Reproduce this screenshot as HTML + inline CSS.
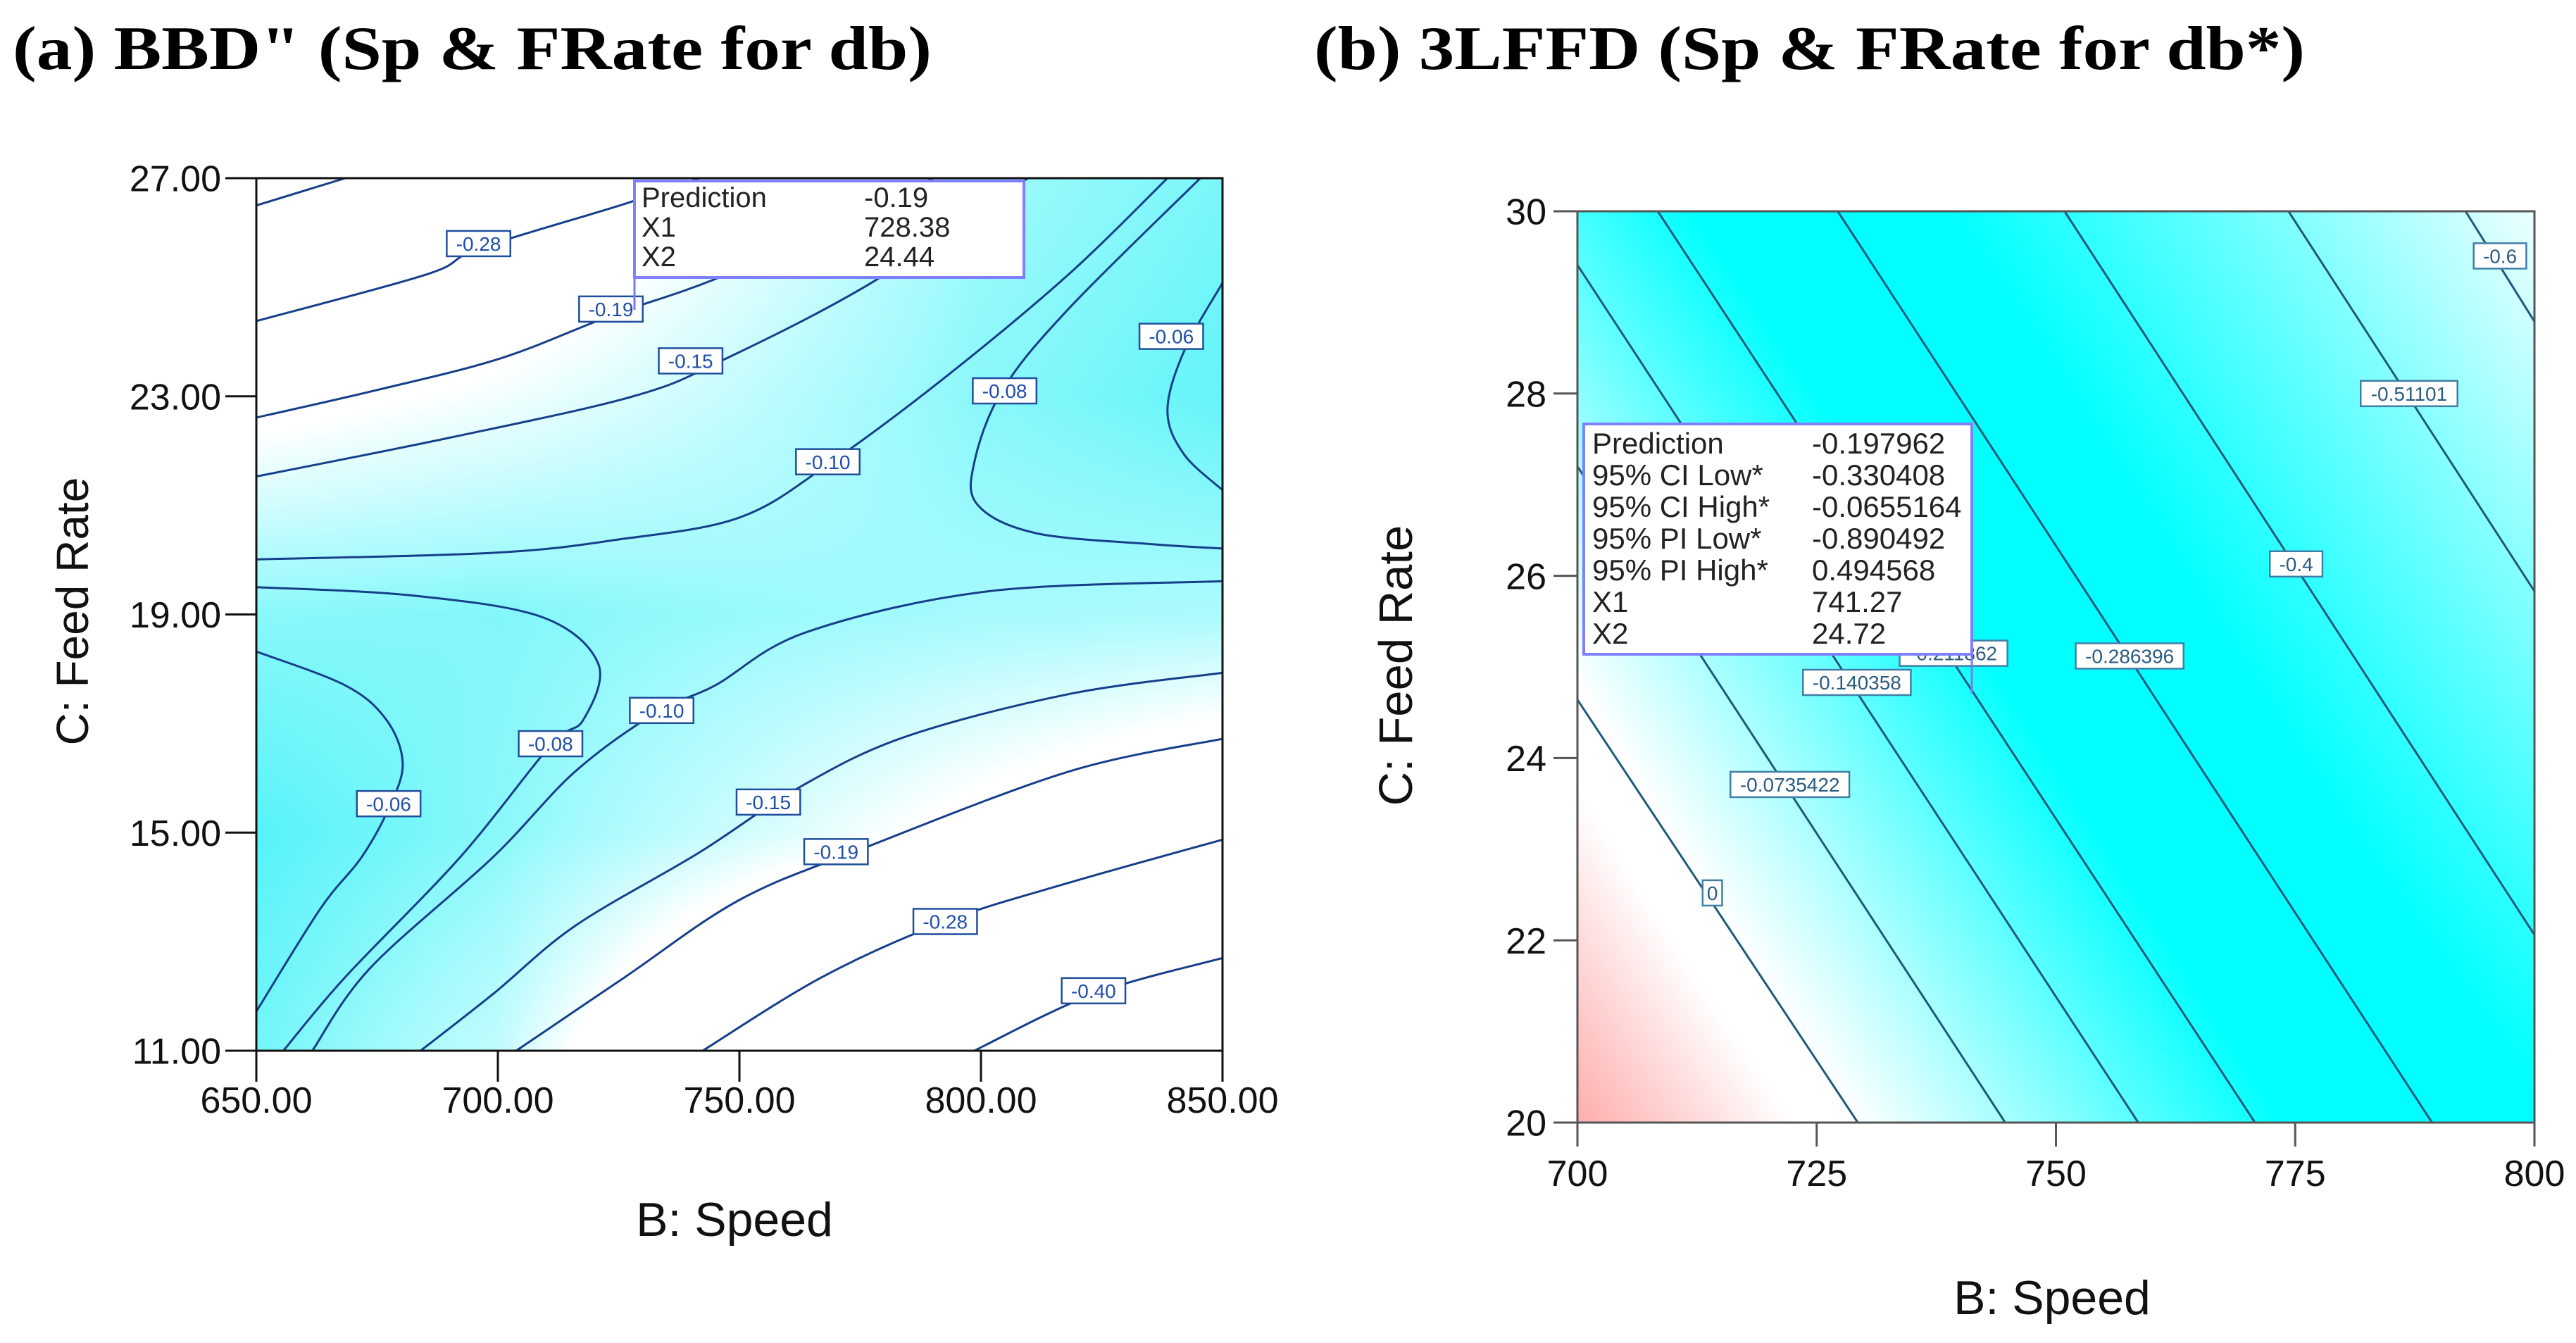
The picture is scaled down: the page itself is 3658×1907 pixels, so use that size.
<!DOCTYPE html>
<html><head><meta charset="utf-8">
<style>
html,body{margin:0;padding:0;background:#fff;}
body{width:3658px;height:1907px;position:relative;overflow:hidden;}
canvas{position:absolute;}
svg{position:absolute;left:0;top:0;}
</style></head>
<body>
<canvas id="bgA"></canvas>
<canvas id="bgB"></canvas>
<svg id="svg" width="3658" height="1907" xmlns="http://www.w3.org/2000/svg">
<text x="18" y="98" font-family="Liberation Serif, serif" font-weight="bold" font-size="88" fill="#000" textLength="1305" lengthAdjust="spacingAndGlyphs">(a) BBD" (Sp &amp; FRate for db)</text>
<text x="1866" y="98" font-family="Liberation Serif, serif" font-weight="bold" font-size="88" fill="#000" textLength="1407" lengthAdjust="spacingAndGlyphs">(b) 3LFFD (Sp &amp; FRate for db*)</text>
<g id="gA"></g>
<g id="gB"></g>
</svg>
<script>
// ---------- Chart A data ----------
const aXTicks=[650,700,750,800,850];
const aYTicks=[11,15,19,23,27];
const aGridX=[650,700,750,800,850];
const aGridY=[11,15,19,23,27];
const aGridV=[
 [-0.07,-0.13,-0.30,-0.40,-0.55],
 [-0.05,-0.085,-0.14,-0.20,-0.26],
 [-0.085,-0.08,-0.095,-0.105,-0.11],
 [-0.20,-0.17,-0.13,-0.085,-0.06],
 [-0.42,-0.25,-0.17,-0.10,-0.075]];
const aLines=[
 [[650,26.5],[668.4,27]],
 [[650,24.38],[685.4,25.24],[696.1,25.71],[726.3,26.53],[741.6,27]],
 [[650,22.61],[675.2,23.12],[700.7,23.7],[723.7,24.49],[745,25.15],[775,26.3],[790,27]],
 [[650,21.53],[690.5,22.25],[728,23.0],[746.7,23.67],[777.3,25.08],[809.7,27]],
 [[650,20.01],[699,20.13],[724.6,20.37],[750.1,20.78],[768.8,21.78],[792.6,23.35],[818.2,25.24],[838.6,27]],
 [[845.4,27],[818.2,24.61],[804.5,23.12],[798.6,21.78],[799.4,21.0],[811.4,20.49],[835.2,20.29],[850,20.21]],
 [[850,25.08],[842,23.82],[838.6,22.73],[842,21.94],[850,21.28]],
 [[850,19.61],[801.1,19.42],[763.7,18.67],[745,17.7],[733.1,17.22],[716,16.12],[699,14.55],[673.5,12.51],[661.6,11]],
 [[650,19.5],[682,19.35],[709.2,18.95],[720.8,18.09],[717.7,17.07],[710.9,16.6],[692.2,14.55],[668.4,12.35],[655.6,11]],
 [[650,18.32],[668.4,17.7],[676.9,17.07],[680.3,16.28],[677.7,15.5],[671.8,14.55],[663.3,13.61],[650,11.72]],
 [[850,17.93],[818.2,17.54],[784.1,16.75],[762,15.81],[741.6,14.63],[716,13.29],[699,12.04],[684,11]],
 [[850,16.72],[818.2,16.12],[775.6,14.71],[750.1,13.77],[726.3,12.35],[703.8,11]],
 [[850,14.87],[818.2,14.08],[792.6,13.37],[767.1,12.35],[742.4,11]],
 [[850,12.7],[823.3,12.04],[798.6,11]]];
const aLabels=["-0.28","-0.19","-0.15","-0.10","-0.08","-0.06","-0.10","-0.08","-0.06","-0.15","-0.19","-0.28","-0.40"];
const aLabelX=[696,723.4,739.9,768.3,804.9,839.4,733.9,710.9,677.4,756,770,792.6,823.3];
const aLabelY=[25.8,24.6,23.65,21.8,23.1,24.1,17.24,16.63,15.53,15.56,14.65,13.37,12.1];
const aTipRows=["Prediction","X1","X2"];
const aTipVals=["-0.19","728.38","24.44"];

// ---------- Chart B data ----------
const bXTicks=[700,725,750,775,800];
const bYTicks=[20,22,24,26,28,30];
const bGridX=[700,725,750,775,800];
const bGridY=[20,25,30];
const bGridV=[
 [0.13,0.02,-0.10,-0.225,-0.33],
 [-0.005,-0.125,-0.25,-0.37,-0.49],
 [-0.16,-0.28,-0.395,-0.513,-0.65]];
const bLines=[
 [[700,24.64],[729.3,20]],
 [[700,27.2],[744.7,20]],
 [[700,29.41],[758.6,20]],
 [[708.4,30],[770.8,20]],
 [[727.2,30],[789.3,20]],
 [[750.9,30],[800,22.06]],
 [[774.3,30],[800,25.83]],
 [[792.8,30],[800,28.79]]];
const bLabels=["-0.6","-0.51101","-0.4","-0.286396","-0.211862","-0.140358","-0.0735422","0"];
const bLabelX=[796.4,786.9,775.1,757.7,739.3,729.2,722.2,714.1];
const bLabelY=[29.51,28.0,26.13,25.12,25.15,24.83,23.71,22.52];
const bTipRows=["Prediction","95% CI Low*","95% CI High*","95% PI Low*","95% PI High*","X1","X2"];
const bTipVals=["-0.197962","-0.330408","-0.0655164","-0.890492","0.494568","741.27","24.72"];

const NS="http://www.w3.org/2000/svg";
function mk(tag,attrs,parent){const e=document.createElementNS(NS,tag);for(const k in attrs)e.setAttribute(k,attrs[k]);parent.appendChild(e);return e;}
function scale(d0,d1,p0,p1){return v=>p0+(v-d0)/(d1-d0)*(p1-p0);}
function bilin(gx,gy,gv,x,y){
 let i=0;while(i<gx.length-2&&x>gx[i+1])i++;
 let j=0;while(j<gy.length-2&&y>gy[j+1])j++;
 let tx=(x-gx[i])/(gx[i+1]-gx[i]),ty=(y-gy[j])/(gy[j+1]-gy[j]);
 tx=Math.max(0,Math.min(1,tx));ty=Math.max(0,Math.min(1,ty));
 const a=gv[j][i]*(1-tx)+gv[j][i+1]*tx,b=gv[j+1][i]*(1-tx)+gv[j+1][i+1]*tx;
 return a*(1-ty)+b*ty;}
function paint(id,L,T,W,H,xd,yd,gx,gy,gv,colorFn){
 const c=document.getElementById(id);c.width=W;c.height=H;c.style.left=L+'px';c.style.top=T+'px';
 const ctx=c.getContext('2d');const img=ctx.createImageData(W,H);
 for(let py=0;py<H;py++){const y=yd[1]-(py/H)*(yd[1]-yd[0]);
  for(let px=0;px<W;px++){const x=xd[0]+(px/W)*(xd[1]-xd[0]);
   const v=bilin(gx,gy,gv,x,y);const col=colorFn(v);const k=(py*W+px)*4;
   img.data[k]=col[0];img.data[k+1]=col[1];img.data[k+2]=col[2];img.data[k+3]=255;}}
 ctx.putImageData(img,0,0);}
function mix(a,b,t){t=Math.max(0,Math.min(1,t));return [a[0]+(b[0]-a[0])*t,a[1]+(b[1]-a[1])*t,a[2]+(b[2]-a[2])*t];}
function smoothPath(pts){
 if(pts.length<3)return 'M'+pts.map(p=>p[0]+','+p[1]).join(' L');
 let d='M'+pts[0][0]+','+pts[0][1];
 for(let i=0;i<pts.length-1;i++){
  const p0=pts[Math.max(0,i-1)],p1=pts[i],p2=pts[i+1],p3=pts[Math.min(pts.length-1,i+2)];
  const c1=[p1[0]+(p2[0]-p0[0])/6,p1[1]+(p2[1]-p0[1])/6],c2=[p2[0]-(p3[0]-p1[0])/6,p2[1]-(p3[1]-p1[1])/6];
  d+=' C'+c1[0]+','+c1[1]+' '+c2[0]+','+c2[1]+' '+p2[0]+','+p2[1];}
 return d;}

function chart(g,o){
 const sx=scale(o.xd[0],o.xd[1],o.L,o.R),sy=scale(o.yd[0],o.yd[1],o.B,o.T);
 o.lines.forEach(line=>{
  const p=mk('path',{d:smoothPath(line.map(q=>[sx(q[0]),sy(q[1])])),fill:'none',stroke:o.lc,'stroke-width':3,'stroke-linejoin':'round'},g);
  
  
 });
 o.labels.forEach((t,i)=>{
  const cx=sx(o.lx[i]),cy=sy(o.ly[i]);const w=t.length*o.lfs*0.56+12,h=o.lfs+8;
  const r=mk('rect',{x:cx-w/2,y:cy-h/2,width:w,height:h,fill:'#fff',stroke:o.lbc,'stroke-width':2.5},g);
  
  
  const tx=mk('text',{x:cx,y:cy+o.lfs*0.36,'text-anchor':'middle','font-family':'Liberation Sans, sans-serif','font-size':o.lfs,fill:o.ltc},g);tx.textContent=t;
  
  
 });
 const fr=mk('rect',{x:o.L,y:o.T,width:o.R-o.L,height:o.B-o.T,fill:'none',stroke:o.ac,'stroke-width':o.aw},g);
 
 
 o.xt.forEach(v=>{
  const x=sx(v);const l=mk('line',{x1:x,x2:x,y1:o.B,y2:o.B+o.tl,stroke:o.ac,'stroke-width':o.aw},g);
  
  
  const t=mk('text',{x:x,y:o.B+o.xly,'text-anchor':'middle','font-family':'Liberation Sans, sans-serif','font-size':o.tfs,fill:'#111'},g);t.textContent=o.fmt(v);
  
  
 });
 o.yt.forEach(v=>{
  const y=sy(v);const l=mk('line',{x1:o.L-o.tl,x2:o.L,y1:y,y2:y,stroke:o.ac,'stroke-width':o.aw},g);
  
  
  const t=mk('text',{x:o.L-o.tl-o.ylg,y:y+o.tfs*0.36,'text-anchor':'end','font-family':'Liberation Sans, sans-serif','font-size':o.tfs,fill:'#111'},g);t.textContent=o.fmt(v);
  
  
 });
 const xt=mk('text',{x:o.xtx,y:o.xty,'text-anchor':'middle','font-family':'Liberation Sans, sans-serif','font-size':o.afs,fill:'#111'},g);xt.textContent='B: Speed';
 
 
 const yt=mk('text',{x:o.ytx,y:o.yty,'text-anchor':'middle','font-family':'Liberation Sans, sans-serif','font-size':o.yfs,fill:'#111',transform:'rotate(-90 '+o.ytx+' '+o.yty+')'},g);yt.textContent='C: Feed Rate';
 
 
 const b=o.tip;
 const pl=mk('line',{x1:b.px,x2:b.px,y1:b.py0,y2:b.py1,stroke:'#7a7aff','stroke-width':3},g);
 
 
 const br=mk('rect',{x:b.x,y:b.y,width:b.w,height:b.h,fill:'#fff',stroke:'#8080ff','stroke-width':4},g);
 
 
 o.tipRows.forEach((r,i)=>{
  const y=b.y+b.fy+i*b.rh;
  const t1=mk('text',{x:b.x+b.tx,y:y,'font-family':'Liberation Sans, sans-serif','font-size':b.fs,fill:'#222'},g);t1.textContent=r;
  
  
  const t2=mk('text',{x:b.vx,y:y,'font-family':'Liberation Sans, sans-serif','font-size':b.fs,fill:'#222'},g);t2.textContent=o.tipVals[i];
  
  
 });
}

// Chart A
const A={L:364,R:1736,T:253,B:1492,xd:[650,850],yd:[11,27]};
paint('bgA',A.L,A.T,A.R-A.L,A.B-A.T,A.xd,A.yd,aGridX,aGridY,aGridV,v=>{
 if(v>-0.10)return mix([160,250,252],[85,243,248],(v+0.10)/0.05);
 return mix([255,255,255],[160,250,252],(v+0.18)/0.08);});
chart(document.getElementById('gA'),Object.assign(A,{lines:aLines,labels:aLabels,lx:aLabelX,ly:aLabelY,lc:'#163f8a',lbc:'#1f4f9c',ltc:'#1f4fa8',lfs:28,
 ac:'#111',aw:3,tl:44,xt:aXTicks,yt:aYTicks,fmt:v=>v.toFixed(2),tfs:52,xly:88,ylg:6,afs:68,yfs:64,xtx:1043,xty:1755,ytx:125,yty:868,
 tipRows:aTipRows,tipVals:aTipVals,tip:{x:901,y:257,w:553,h:137,tx:10,vx:1227,fy:37,rh:42,fs:40,px:901,py0:394,py1:440}}));

// Chart B
const Bc={L:2240,R:3599,T:300,B:1594,xd:[700,800],yd:[20,30]};
paint('bgB',Bc.L,Bc.T,Bc.R-Bc.L,Bc.B-Bc.T,Bc.xd,Bc.yd,bGridX,bGridY,bGridV,v=>{
 if(v>0.03)return mix([255,255,255],[255,165,165],(v-0.03)/0.11);
 if(v>0)return [255,255,255];
 if(v>-0.22)return mix([255,255,255],[0,255,255],-v/0.22);
 if(v>-0.34)return [0,255,255];
 return mix([0,255,255],[245,255,255],(-v-0.34)/0.32);});
chart(document.getElementById('gB'),Object.assign(Bc,{lines:bLines,labels:bLabels,lx:bLabelX,ly:bLabelY,lc:'#1d5a7a',lbc:'#3f7fa6',ltc:'#2b5c80',lfs:28,
 ac:'#555',aw:3,tl:34,xt:bXTicks,yt:bYTicks,fmt:v=>String(v),tfs:52,xly:90,ylg:10,afs:68,yfs:67,xtx:2914,xty:1866,ytx:2005,yty:945,
 tipRows:bTipRows,tipVals:bTipVals,tip:{x:2249,y:602,w:551,h:327,tx:12,vx:2573,fy:42,rh:45,fs:42,px:2800,py0:929,py1:985}}));
</script>
</body></html>
